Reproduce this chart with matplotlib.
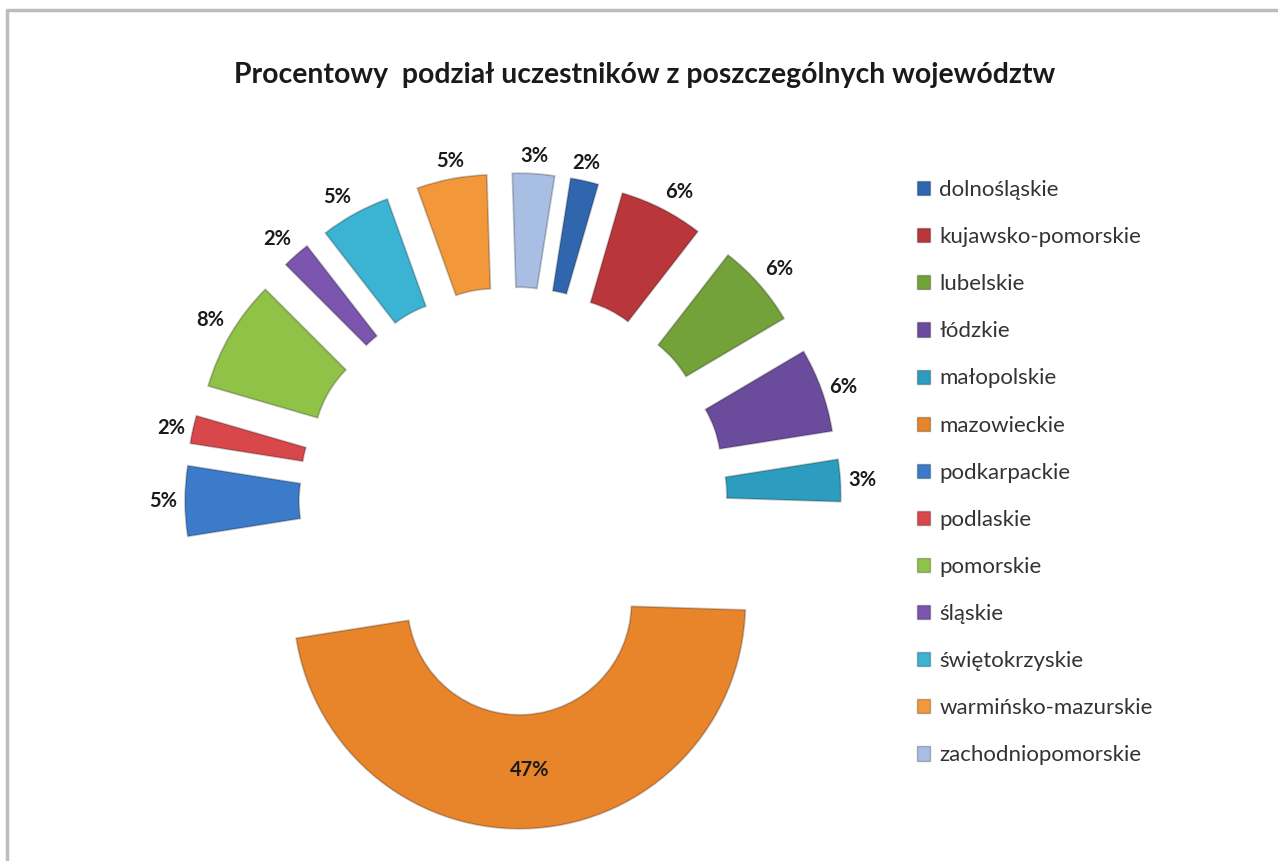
import numpy as np
import matplotlib.pyplot as plt
from matplotlib.patches import Patch

plt.rcParams['font.family'] = ['Lato', 'DejaVu Sans']

# dane z wykresu
wojewodztwa = ['dolnośląskie', 'kujawsko-pomorskie', 'lubelskie', 'łódzkie',
               'małopolskie', 'mazowieckie', 'podkarpackie', 'podlaskie',
               'pomorskie', 'śląskie', 'świętokrzyskie', 'warmińsko-mazurskie',
               'zachodniopomorskie']
procenty = [2, 6, 6, 6, 3, 47, 5, 2, 8, 2, 5, 5, 3]
kolory = ['#2F66AE', '#B9373A', '#74A23A', '#6A4B9C', '#2C9DBE', '#E8842A',
          '#3B7BCA', '#D8474A', '#8FC247', '#7B55AE', '#3BB3D3', '#F2983A',
          '#A8BEE3']

W, H = 1278, 861
fig = plt.figure(figsize=(W / 100, H / 100), dpi=100)
ax = fig.add_axes([0, 0, 1, 1])

cx, cy = 513, H - 501
R = 226
d = 102
wedges, _ = ax.pie(procenty, colors=kolory, radius=R, center=(cx, cy),
                   startangle=81, counterclock=False,
                   explode=[d] * len(procenty),
                   wedgeprops=dict(width=114, edgecolor='#00000038', linewidth=1.3))

ax.set_xlim(0, W)
ax.set_ylim(0, H)
ax.set_aspect('auto')
ax.axis('off')

# ramka wykresu (szara)
ax.plot([7, 7, W + 20], [-20, H - 10, H - 10], color='#BDBDBD', lw=2.5,
        clip_on=False)

# etykiety procentowe
for w, p in zip(wedges, procenty):
    tm = np.deg2rad((w.theta1 + w.theta2) / 2)
    ux, uy = np.cos(tm), np.sin(tm)
    wx, wy = w.center
    if p > 20:
        rr = R - 58
        ax.text(wx + rr * ux, wy + rr * uy, f'{p}%', ha='center', va='center',
                fontsize=14.5, fontweight='bold', color='#1a1a1a')
        continue
    rr = R + 8
    ha = 'left' if ux > 0.35 else ('right' if ux < -0.35 else 'center')
    va = 'bottom' if uy > 0.5 else ('top' if uy < -0.5 else 'center')
    ax.text(wx + rr * ux, wy + rr * uy, f'{p}%', ha=ha, va=va,
            fontsize=14.5, fontweight='bold', color='#1a1a1a')

ax.text(645, H - 75, 'Procentowy  podział uczestników z poszczególnych województw',
        ha='center', va='center', fontsize=20.4, fontweight='bold', color='#1a1a1a')

uchwyty = [Patch(facecolor=k, edgecolor='#00000040') for k in kolory]
ax.legend(uchwyty, wojewodztwa, loc='upper left',
          bbox_to_anchor=(897 / W, 1 - 160 / H), bbox_transform=fig.transFigure,
          frameon=False, fontsize=16, handlelength=0.6, handleheight=0.6,
          handletextpad=0.4, labelspacing=1.22, labelcolor='#333333')

fig.savefig('out.png', dpi=100)
